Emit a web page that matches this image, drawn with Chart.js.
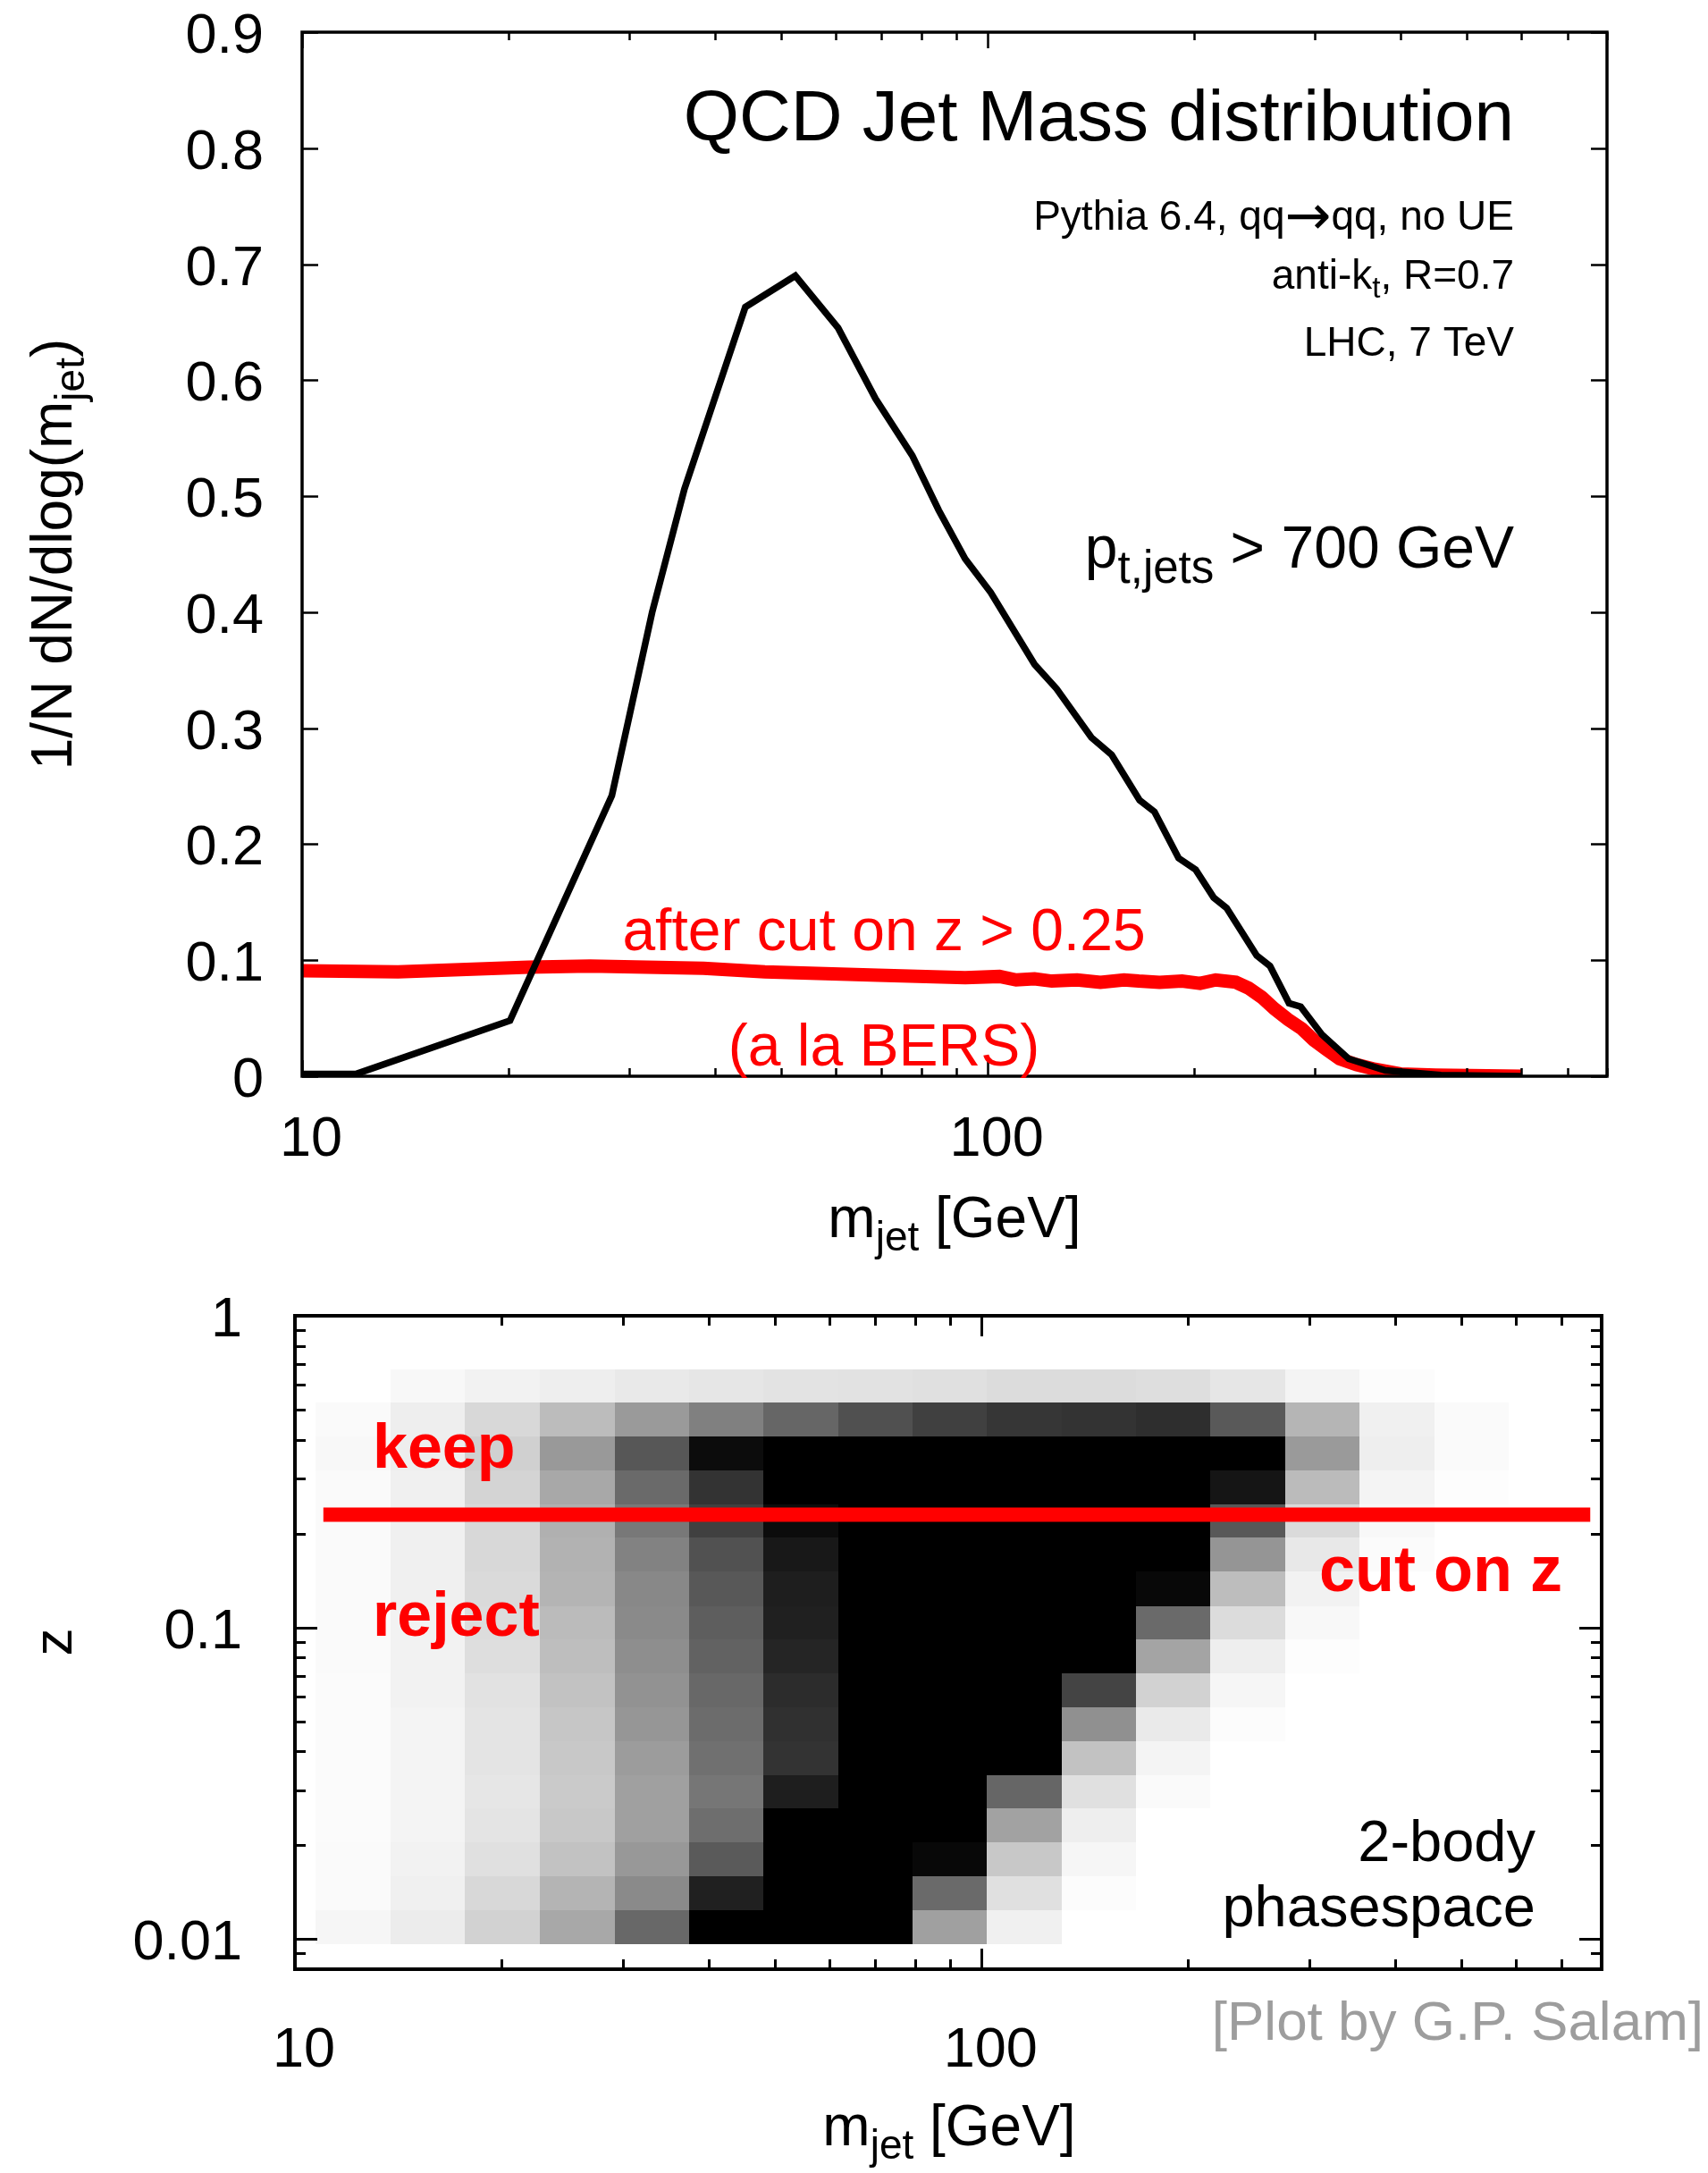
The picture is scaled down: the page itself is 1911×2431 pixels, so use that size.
<!DOCTYPE html>
<html>
<head>
<meta charset="utf-8">
<script src="https://cdn.jsdelivr.net/npm/chart.js@4.4.1/dist/chart.umd.min.js"></script>
<style>
  html, body { margin: 0; padding: 0; background: #fff; }
  #wrap { position: relative; width: 1911px; height: 2431px; }
  canvas { position: absolute; left: 0; }
  #massChart { top: 0; }
  #zChart { top: 1440px; }
</style>
</head>
<body>
<div id="wrap">
  <canvas id="massChart" width="1911" height="1440"></canvas>
  <canvas id="zChart" width="1911" height="991"></canvas>
</div>
<script>
// ---- data ----

// upper panel: jet mass distribution, all jets (black)
const massAll = [10, 12.0, 20.1, 28.3, 32.4, 36.1, 39.6, 44.3, 52.4, 60.5, 68.6, 77.6, 84.8, 92.7, 101,
                 117, 126, 141.6, 151.6, 166.5, 175, 189.8, 201, 213.5, 223, 246.7, 258, 275, 286, 307,
                 336, 380, 458, 600];
const distAll = [0.002, 0.002, 0.048, 0.242, 0.400, 0.506, 0.577, 0.663, 0.690, 0.645, 0.584, 0.535, 0.488, 0.446, 0.417,
                 0.355, 0.334, 0.292, 0.277, 0.238, 0.228, 0.188, 0.178, 0.154, 0.145, 0.104, 0.095, 0.063, 0.060, 0.036,
                 0.015, 0.005, 0.001, 0.0];

// upper panel: after cut on z > 0.25 (red)
const massCut = [10, 13.8, 21.4, 26.3, 38.5, 47.3, 69.2, 92.7, 104, 110, 117, 124, 135, 146, 158, 166, 178,
                 192, 204, 215, 230, 240, 251, 262, 274, 287, 299, 312, 326, 345, 367, 400, 450, 600];
const distCut = [0.091, 0.090, 0.094, 0.095, 0.093, 0.090, 0.087, 0.085, 0.086, 0.083, 0.084, 0.082, 0.083, 0.081, 0.083, 0.082, 0.081,
                 0.082, 0.080, 0.083, 0.081, 0.076, 0.068, 0.058, 0.049, 0.041, 0.031, 0.023, 0.015, 0.010, 0.006, 0.002, 0.001, 0.0];

// lower panel: 2-body phase space, bins in m_jet and z
const massEdges = [10.7, 13.8, 17.7, 22.7, 29.2, 37.5, 48.1, 61.8, 79.3, 101.8, 130.7, 167.8, 215.5, 276.7, 355.3, 456.2, 585.8];
const zEdges = [0.675, 0.526, 0.410, 0.319, 0.248, 0.194, 0.151, 0.117, 0.0914, 0.0712, 0.0554, 0.0432, 0.0336, 0.0262, 0.0204, 0.0159, 0.0124, 0.00964];
// grey level of each cell (255 = white, 0 = black), rows from top (large z) to bottom
const cellShade = [
  [255, 248, 242, 238, 233, 230, 227, 226, 224, 220, 220, 222, 230, 244, 252, 255],
  [250, 238, 216, 188, 154, 128, 102,  80,  64,  54,  51,  46,  89, 181, 240, 250],
  [248, 238, 208, 153,  87,  12,   0,   0,   0,   0,   0,   0,   0, 154, 238, 250],
  [250, 240, 212, 168, 106,  51,   0,   0,   0,   0,   0,   0,  21, 187, 244, 253],
  [250, 240, 216, 176, 120,  64,  12,   0,   0,   0,   0,   0,  88, 218, 248, 255],
  [250, 240, 216, 178, 130,  81,  24,   0,   0,   0,   0,   0, 149, 232, 251, 255],
  [250, 240, 218, 180, 136,  88,  30,   0,   0,   0,   0,   8, 189, 242, 255, 255],
  [250, 242, 220, 187, 138,  94,  32,   0,   0,   0,   0, 106, 220, 248, 255, 255],
  [250, 242, 222, 190, 142,  98,  37,   0,   0,   0,   0, 164, 238, 253, 255, 255],
  [251, 242, 226, 194, 146, 104,  44,   0,   0,   0,  68, 210, 246, 255, 255, 255],
  [251, 244, 228, 198, 150, 108,  48,   0,   0,   0, 144, 234, 252, 255, 255, 255],
  [251, 244, 228, 200, 156, 112,  51,   0,   0,   0, 194, 244, 255, 255, 255, 255],
  [251, 244, 230, 202, 160, 118,  30,   0,   0, 102, 224, 250, 255, 255, 255, 255],
  [251, 244, 228, 200, 160, 110,   0,   0,   0, 162, 238, 255, 255, 255, 255, 255],
  [250, 242, 224, 194, 152,  90,   0,   0,   8, 200, 246, 255, 255, 255, 255, 255],
  [250, 240, 216, 180, 138,  32,   0,   0, 106, 224, 252, 255, 255, 255, 255, 255],
  [246, 236, 210, 168, 104,   0,   0,   0, 160, 240, 255, 255, 255, 255, 255, 255]
];
const zCutLine = [0.23, 0.23];
const zCutMass = [11, 770];

// tick values
const massMajor = [10, 100];
const massMinor = [20, 30, 40, 50, 60, 70, 80, 90, 200, 300, 400, 500, 600, 700, 800];
const distTicks = [0, 0.1, 0.2, 0.3, 0.4, 0.5, 0.6, 0.7, 0.8, 0.9];
const zMajor = [0.01, 0.1, 1];
const zMinor = [0.009, 0.02, 0.03, 0.04, 0.05, 0.06, 0.07, 0.08, 0.09, 0.2, 0.3, 0.4, 0.5, 0.6, 0.7, 0.8, 0.9];

const FONT = '"Liberation Sans", Arial, Helvetica, sans-serif';
const ARROW_FONT = '"DejaVu Sans", sans-serif';

// draw a run of text pieces (for sub/superscripts)
function richText(ctx, parts, x, y, align) {
    let w = 0;
    parts.forEach(p => {
        ctx.font = p.font;
        p.w = ctx.measureText(p.t).width;
        w += p.w;
    });
    let cx = align === 'right' ? x - w : (align === 'center' ? x - w / 2 : x);
    ctx.textAlign = 'left';
    parts.forEach(p => {
        ctx.font = p.font;
        ctx.fillText(p.t, cx, y + (p.dy || 0));
        cx += p.w;
    });
}

function mjetParts() {
    return [
        { t: 'm', font: '64px ' + FONT },
        { t: 'jet', font: '46px ' + FONT, dy: 15 },
        { t: ' [GeV]', font: '64px ' + FONT }
    ];
}

function drawText(ctx, t, x, y, font, align, color) {
    ctx.font = font;
    ctx.textAlign = align;
    ctx.fillStyle = color || '#000';
    ctx.fillText(t, x, y);
}

// frame + inward ticks on all four sides
function drawFrame(ctx, chart, opts) {
    const a = chart.chartArea;
    const xs = chart.scales.x, ys = chart.scales.y;
    ctx.save();
    ctx.strokeStyle = '#000';
    ctx.lineWidth = opts.tickWidth;
    ctx.beginPath();
    const xTick = (v, len) => {
        const px = Math.round(xs.getPixelForValue(v)) + 0.5;
        ctx.moveTo(px, a.bottom); ctx.lineTo(px, a.bottom - len);
        ctx.moveTo(px, a.top); ctx.lineTo(px, a.top + len);
    };
    const yTick = (v, len) => {
        const py = Math.round(ys.getPixelForValue(v)) + 0.5;
        ctx.moveTo(a.left, py); ctx.lineTo(a.left + len, py);
        ctx.moveTo(a.right, py); ctx.lineTo(a.right - len, py);
    };
    massMajor.forEach(v => xTick(v, opts.xMajorLen));
    massMinor.forEach(v => xTick(v, opts.xMinorLen));
    opts.yMajor.forEach(v => yTick(v, opts.yMajorLen));
    (opts.yMinor || []).forEach(v => yTick(v, opts.yMinorLen));
    ctx.stroke();
    ctx.lineWidth = opts.frameWidth;
    ctx.strokeRect(a.left, a.top, a.right - a.left, a.bottom - a.top);
    ctx.restore();
}

const topDecor = {
    id: 'topDecor',
    afterDraw(chart) {
        const ctx = chart.ctx;
        const xs = chart.scales.x, ys = chart.scales.y;
        drawFrame(ctx, chart, {
            tickWidth: 2.5, frameWidth: 3.5,
            xMajorLen: 18, xMinorLen: 9,
            yMajor: distTicks, yMajorLen: 18
        });
        ctx.save();
        ctx.fillStyle = '#000';
        ctx.textBaseline = 'alphabetic';
        distTicks.forEach(v => {
            drawText(ctx, String(v), 295, ys.getPixelForValue(v) + 23, '63px ' + FONT, 'right');
        });
        massMajor.forEach(v => {
            drawText(ctx, String(v), xs.getPixelForValue(v) + 10, 1293, '63px ' + FONT, 'center');
        });
        ctx.fillStyle = '#000';
        richText(ctx, mjetParts(), 1068, 1384, 'center');

        // rotated y title
        ctx.save();
        ctx.translate(80, 620);
        ctx.rotate(-Math.PI / 2);
        richText(ctx, [
            { t: '1/N dN/dlog(m', font: '64px ' + FONT },
            { t: 'jet', font: '46px ' + FONT, dy: 14 },
            { t: ')', font: '64px ' + FONT }
        ], 0, 0, 'center');
        ctx.restore();

        drawText(ctx, 'QCD Jet Mass distribution', 1694, 157, '80px ' + FONT, 'right');
        richText(ctx, [
            { t: 'Pythia 6.4, qq', font: '46px ' + FONT },
            { t: '\u2192', font: '62px ' + ARROW_FONT, dy: 5 },
            { t: 'qq, no UE', font: '46px ' + FONT }
        ], 1694, 257, 'right');
        richText(ctx, [
            { t: 'anti-k', font: '46px ' + FONT },
            { t: 't', font: '33px ' + FONT, dy: 10 },
            { t: ', R=0.7', font: '46px ' + FONT }
        ], 1694, 323, 'right');
        drawText(ctx, 'LHC, 7 TeV', 1694, 398, '46px ' + FONT, 'right');
        richText(ctx, [
            { t: 'p', font: '66px ' + FONT },
            { t: 't,jets', font: '51px ' + FONT, dy: 17 },
            { t: ' > 700 GeV', font: '66px ' + FONT }
        ], 1694, 635, 'right');

        drawText(ctx, 'after cut on z > 0.25', 989, 1063, '66px ' + FONT, 'center', '#ff0000');
        drawText(ctx, '(a la BERS)', 989, 1192, '66px ' + FONT, 'center', '#ff0000');
        ctx.restore();
    }
};

const heatCells = {
    id: 'heatCells',
    beforeDatasetsDraw(chart) {
        const ctx = chart.ctx;
        const xs = chart.scales.x, ys = chart.scales.y;
        ctx.save();
        cellShade.forEach((row, r) => {
            const y0 = Math.round(ys.getPixelForValue(zEdges[r]));
            const y1 = Math.round(ys.getPixelForValue(zEdges[r + 1]));
            row.forEach((g, c) => {
                if (g >= 255) return;
                const x0 = Math.round(xs.getPixelForValue(massEdges[c]));
                const x1 = Math.round(xs.getPixelForValue(massEdges[c + 1]));
                ctx.fillStyle = 'rgb(' + g + ',' + g + ',' + g + ')';
                ctx.fillRect(x0, y0, x1 - x0, y1 - y0);
            });
        });
        ctx.restore();
    },
    afterDraw(chart) {
        const ctx = chart.ctx;
        const xs = chart.scales.x, ys = chart.scales.y;
        const off = 1440; // canvas top offset on the page
        drawFrame(ctx, chart, {
            tickWidth: 3, frameWidth: 4,
            xMajorLen: 23, xMinorLen: 11,
            yMajor: zMajor, yMajorLen: 25,
            yMinor: zMinor, yMinorLen: 12
        });
        ctx.save();
        ctx.textBaseline = 'alphabetic';
        ['0.01', '0.1', '1'].forEach((t, i) => {
            drawText(ctx, t, 271, ys.getPixelForValue(zMajor[i]) + 23, '63px ' + FONT, 'right');
        });
        massMajor.forEach(v => {
            drawText(ctx, String(v), xs.getPixelForValue(v) + 10, 2312 - off, '63px ' + FONT, 'center');
        });
        ctx.fillStyle = '#000';
        richText(ctx, mjetParts(), 1062, 2400 - off, 'center');

        ctx.save();
        ctx.translate(80, 1837 - off);
        ctx.rotate(-Math.PI / 2);
        ctx.fillStyle = '#000';
        richText(ctx, [{ t: 'z', font: '62px ' + FONT }], 0, 0, 'center');
        ctx.restore();

        drawText(ctx, 'keep', 417, 1642 - off, 'bold 70px ' + FONT, 'left', '#ff0000');
        drawText(ctx, 'reject', 417, 1830 - off, 'bold 70px ' + FONT, 'left', '#ff0000');
        drawText(ctx, 'cut on z', 1748, 1780 - off, 'bold 72px ' + FONT, 'right', '#ff0000');
        drawText(ctx, '2-body', 1718, 2082 - off, '65px ' + FONT, 'right', '#000');
        drawText(ctx, 'phasespace', 1718, 2155 - off, '65px ' + FONT, 'right', '#000');
        drawText(ctx, '[Plot by G.P. Salam]', 1906, 2282 - off, '62px ' + FONT, 'right', '#9d9d9d');
        ctx.restore();
    }
};

new Chart(document.getElementById('massChart'), {
    type: 'line',
    data: {
        datasets: [{
            label: 'all jets',
            data: massAll.map((m, i) => ({ x: m, y: distAll[i] })),
            borderColor: '#000000',
            borderWidth: 7.5,
            pointRadius: 0,
            tension: 0
        }, {
            label: 'after cut on z > 0.25',
            data: massCut.map((m, i) => ({ x: m, y: distCut[i] })),
            borderColor: '#ff0000',
            borderWidth: 15,
            pointRadius: 0,
            tension: 0
        }]
    },
    options: {
        responsive: false,
        animation: false,
        events: [],
        layout: { padding: { left: 338, top: 36, right: 113, bottom: 236 } },
        plugins: { legend: { display: false }, tooltip: { enabled: false } },
        scales: {
            x: { type: 'logarithmic', min: 10, max: 800, display: false },
            y: { type: 'linear', min: 0, max: 0.9, display: false }
        }
    },
    plugins: [topDecor]
});

new Chart(document.getElementById('zChart'), {
    type: 'line',
    data: {
        datasets: [{
            label: 'cut on z',
            data: zCutMass.map((m, i) => ({ x: m, y: zCutLine[i] })),
            borderColor: '#ff0000',
            borderWidth: 16,
            borderCapStyle: 'butt',
            pointRadius: 0
        }]
    },
    options: {
        responsive: false,
        animation: false,
        events: [],
        layout: { padding: { left: 330, top: 32, right: 119, bottom: 228 } },
        plugins: { legend: { display: false }, tooltip: { enabled: false } },
        scales: {
            x: { type: 'logarithmic', min: 10, max: 800, display: false },
            y: { type: 'logarithmic', min: 0.008, max: 1, display: false }
        }
    },
    plugins: [heatCells]
});
</script>
</body>
</html>
